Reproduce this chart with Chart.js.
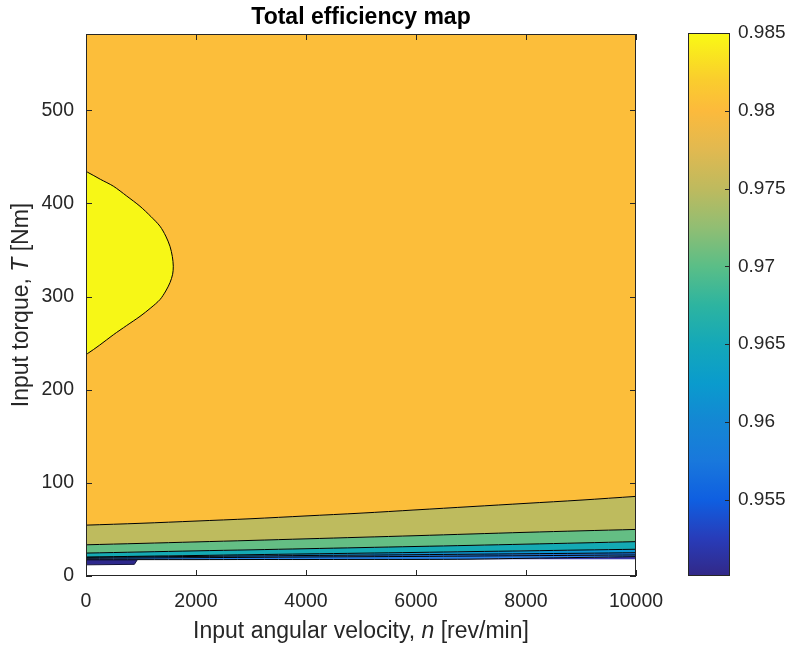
<!DOCTYPE html>
<html>
<head>
<meta charset="utf-8">
<script src="https://cdn.jsdelivr.net/npm/chart.js@4.4.1/dist/chart.umd.min.js"></script>
<style>
  body { margin: 0; background: #fff; }
  #wrap { position: relative; width: 787px; height: 646px; }
  #map { position: absolute; left: 0; top: 0; }
  #bar { position: absolute; left: 660px; top: 0; }
</style>
</head>
<body>
<div id="wrap">
  <canvas id="map" width="787" height="646"></canvas>
  <canvas id="bar" width="127" height="646"></canvas>
</div>
<script>
// input speed samples [rev/min]
const speeds = [0, 1000, 2000, 3000, 4000, 5000, 6000, 7000, 8000, 9000, 10000];

// contour lines, torque [Nm] at each speed, bottom to top
const edgeLow = [17.6, 17.6, 17.6, 17.7, 17.7, 17.8, 17.8, 17.8, 17.9, 17.9, 18.0];
const line955 = [17.6, 17.6, 17.6, 17.7, 17.7, 17.8, 17.8, 18.1, 19.0, 19.9, 20.8];
const line958 = [19.0, 19.3, 19.7, 20.0, 20.4, 20.7, 21.0, 21.4, 21.8, 22.2, 22.6];
const line960 = [20.0, 20.5, 21.0, 21.5, 22.0, 22.4, 22.9, 23.4, 23.9, 24.4, 25.0];
const line965 = [20.3, 21.2, 22.0, 22.9, 23.7, 24.5, 25.3, 26.2, 27.0, 27.9, 28.7];
const line970 = [24.6, 25.8, 27.0, 28.1, 29.3, 30.5, 31.7, 32.9, 34.2, 35.5, 36.9];
const line975 = [33.5, 35.0, 36.6, 38.2, 39.9, 41.6, 43.3, 45.1, 46.9, 48.5, 50.0];
const line980 = [54.6, 56.6, 59.0, 61.5, 64.5, 67.5, 71.0, 74.5, 78.0, 81.5, 85.5];
const edgeTop = [582, 582, 582, 582, 582, 582, 582, 582, 582, 582, 582];

// closed 0.984 contour (yellow lobe)
const lobeSpeed  = [0, 24, 250, 497, 740, 982, 1180, 1345, 1450, 1527, 1575, 1587,
                    1570, 1527, 1450, 1345, 1180, 982, 740, 497, 260, 24, 0];
const lobeTorque = [238.7, 238.7, 248, 259, 269, 278.8, 288, 296.8, 306, 315, 324, 332.6,
                    343, 354, 365, 375.6, 386, 397, 408, 418.6, 426, 433.7, 433.7];

// small low-efficiency patch at low speed
const patchSpeed  = [0, 880, 930, 0];
const patchTorque = [12.0, 12.5, 17.2, 17.2];

const xTicks = [0, 2000, 4000, 6000, 8000, 10000];
const yTicks = [0, 100, 200, 300, 400, 500];
const cbTicks = [0.955, 0.96, 0.965, 0.97, 0.975, 0.98, 0.985];
const cbMin = 0.9501, cbMax = 0.985;

const TXT = 'rgb(38,38,38)';
const FONT = '"Liberation Sans", Arial, Helvetica, sans-serif';
const TICK_SIZE = 19.5;
const LABEL_SIZE = 23;

function pts(xs, ys) {
  return xs.map((x, i) => ({ x: x, y: ys[i] }));
}

function band(data, target, color, border) {
  return {
    data: pts(speeds, data),
    showLine: true,
    pointRadius: 0,
    borderColor: '#000',
    borderWidth: border,
    backgroundColor: color,
    fill: target === null ? false : target,
    tension: 0.3
  };
}

function noPad(s) {
  s.paddingLeft = 0; s.paddingRight = 0; s.paddingTop = 0; s.paddingBottom = 0;
}

const frame = {
  id: 'frame',
  afterDraw(chart) {
    const { ctx, chartArea: a, scales } = chart;
    const len = 6;
    ctx.save();
    ctx.strokeStyle = TXT;
    ctx.lineWidth = 1;
    ctx.strokeRect(a.left + 0.5, a.top + 0.5, a.width - 1, a.height - 1);
    ctx.beginPath();
    xTicks.forEach(v => {
      const px = Math.round(scales.x.getPixelForValue(v)) + 0.5;
      ctx.moveTo(px, a.bottom); ctx.lineTo(px, a.bottom - len);
      ctx.moveTo(px, a.top); ctx.lineTo(px, a.top + len);
    });
    yTicks.forEach(v => {
      const py = Math.round(scales.y.getPixelForValue(v)) + 0.5;
      ctx.moveTo(a.left, py); ctx.lineTo(a.left + len, py);
      ctx.moveTo(a.right, py); ctx.lineTo(a.right - len, py);
    });
    ctx.stroke();

    // title
    const cx = (a.left + a.right) / 2;
    ctx.fillStyle = '#000';
    ctx.textAlign = 'center';
    ctx.textBaseline = 'middle';
    ctx.font = 'bold ' + LABEL_SIZE + 'px ' + FONT;
    ctx.fillText('Total efficiency map', cx, 18);

    // axis titles with italic symbols
    drawMixed(ctx, [['Input angular velocity, ', false], ['n', true], [' [rev/min]', false]], cx, 632, 0);
    drawMixed(ctx, [['Input torque, ', false], ['T', true], [' [Nm]', false]], 22, (a.top + a.bottom) / 2, -Math.PI / 2);
    ctx.restore();
  }
};

function drawMixed(ctx, parts, x, y, rot) {
  let total = 0;
  parts.forEach(p => {
    ctx.font = (p[1] ? 'italic ' : '') + LABEL_SIZE + 'px ' + FONT;
    total += ctx.measureText(p[0]).width;
  });
  ctx.save();
  ctx.translate(x, y);
  ctx.rotate(rot);
  ctx.fillStyle = TXT;
  ctx.textAlign = 'left';
  ctx.textBaseline = 'middle';
  let cur = -total / 2;
  parts.forEach(p => {
    ctx.font = (p[1] ? 'italic ' : '') + LABEL_SIZE + 'px ' + FONT;
    ctx.fillText(p[0], cur, 0);
    cur += ctx.measureText(p[0]).width;
  });
  ctx.restore();
}

new Chart(document.getElementById('map'), {
  type: 'scatter',
  data: {
    datasets: [
      { data: pts(lobeSpeed, lobeTorque), showLine: true, pointRadius: 0, borderColor: '#000', borderWidth: 1,
        backgroundColor: 'rgb(247,247,22)', fill: 'shape', tension: 0.3 },
      { data: pts(patchSpeed, patchTorque), showLine: true, pointRadius: 0, borderColor: 'rgb(20,20,60)', borderWidth: 1,
        backgroundColor: 'rgb(45,40,140)', fill: 'shape' },
      band(edgeLow, null, 'transparent', 0),
      band(line955, 2, 'rgb(62,58,170)', 1),
      band(line958, 3, 'rgb(40,128,230)', 1),
      band(line960, 4, 'rgb(28,120,222)', 1),
      band(line965, 5, 'rgb(15,150,210)', 1),
      band(line970, 6, 'rgb(20,170,180)', 1),
      band(line975, 7, 'rgb(100,190,132)', 1),
      band(line980, 8, 'rgb(190,187,94)', 1),
      band(edgeTop, 9, 'rgb(252,190,58)', 0)
    ]
  },
  options: {
    responsive: false,
    animation: false,
    layout: { padding: { top: 34, right: 151, left: 0, bottom: 0 } },
    plugins: { legend: { display: false }, tooltip: { enabled: false } },
    scales: {
      x: {
        type: 'linear', min: 0, max: 10000,
        grid: { display: false, drawTicks: false }, border: { display: false },
        afterBuildTicks: s => { s.ticks = xTicks.map(v => ({ value: v })); },
        afterFit: s => { s.height = 70; noPad(s); },
        ticks: { color: TXT, font: { family: FONT, size: TICK_SIZE }, padding: 14, maxRotation: 0,
          callback: v => String(v) }
      },
      y: {
        type: 'linear', min: 0, max: 582,
        grid: { display: false, drawTicks: false }, border: { display: false },
        afterBuildTicks: s => { s.ticks = yTicks.map(v => ({ value: v })); },
        afterFit: s => { s.width = 86; noPad(s); },
        ticks: { color: TXT, font: { family: FONT, size: TICK_SIZE }, padding: 12,
          callback: v => String(v) }
      }
    }
  },
  plugins: [frame]
});

// colour bar
const parula = [
  [0.0, 'rgb(50,40,135)'], [0.069, 'rgb(40,60,185)'], [0.14, 'rgb(15,95,225)'],
  [0.212, 'rgb(25,120,220)'], [0.284, 'rgb(20,135,212)'], [0.355, 'rgb(10,155,205)'],
  [0.427, 'rgb(20,168,185)'], [0.499, 'rgb(45,180,160)'], [0.57, 'rgb(90,190,135)'],
  [0.642, 'rgb(145,190,115)'], [0.713, 'rgb(190,186,94)'], [0.785, 'rgb(225,185,80)'],
  [0.857, 'rgb(252,186,60)'], [0.914, 'rgb(250,205,45)'], [1.0, 'rgb(249,250,20)']
];

const barFrame = {
  id: 'barFrame',
  afterDraw(chart) {
    const { ctx, chartArea: a, scales } = chart;
    ctx.save();
    ctx.strokeStyle = TXT;
    ctx.lineWidth = 1;
    ctx.strokeRect(a.left + 0.5, a.top + 0.5, a.width - 1, a.height - 1);
    ctx.beginPath();
    cbTicks.forEach(v => {
      const py = Math.round(scales.y.getPixelForValue(v)) + 0.5;
      ctx.moveTo(a.right, py); ctx.lineTo(a.right - 5, py);
    });
    ctx.stroke();
    ctx.restore();
  }
};

new Chart(document.getElementById('bar'), {
  type: 'bar',
  data: {
    labels: ['eff'],
    datasets: [{
      data: [[cbMin, cbMax]],
      barPercentage: 1,
      categoryPercentage: 1,
      borderWidth: 0,
      backgroundColor: c => {
        const a = c.chart.chartArea;
        if (!a) return 'rgb(90,190,135)';
        const g = c.chart.ctx.createLinearGradient(0, a.bottom, 0, a.top);
        parula.forEach(s => g.addColorStop(s[0], s[1]));
        return g;
      }
    }]
  },
  options: {
    responsive: false,
    animation: false,
    layout: { padding: { top: 33, right: 0, left: 28, bottom: 70 } },
    plugins: { legend: { display: false }, tooltip: { enabled: false } },
    scales: {
      x: { display: false },
      y: {
        position: 'right', min: cbMin, max: cbMax,
        grid: { display: false, drawTicks: false }, border: { display: false },
        afterBuildTicks: s => { s.ticks = cbTicks.map(v => ({ value: v })); },
        afterFit: s => { s.width = 57; noPad(s); },
        ticks: { color: TXT, font: { family: FONT, size: 19 }, padding: 8,
          callback: v => String(Number(v.toFixed(3))) }
      }
    }
  },
  plugins: [barFrame]
});
</script>
</body>
</html>
